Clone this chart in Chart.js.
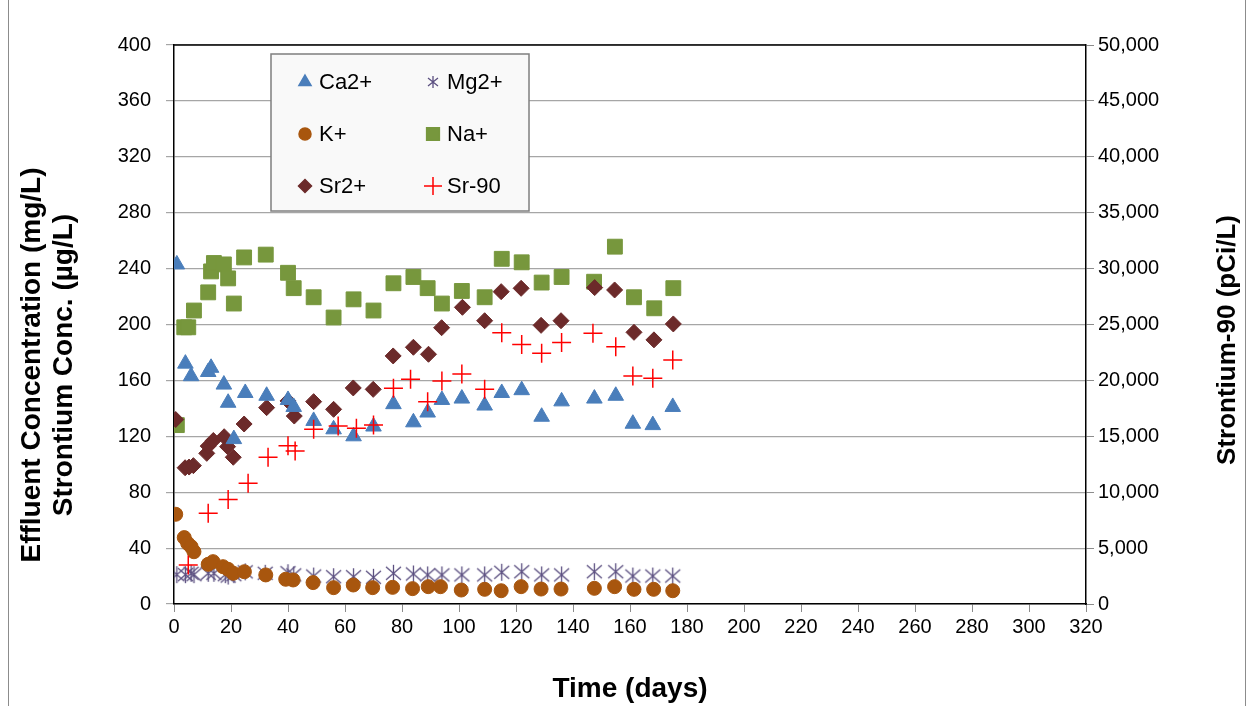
<!DOCTYPE html>
<html lang="en">
<head>
    <meta charset="UTF-8">
    <title>Effluent Concentration vs Time</title>
    <style>
        body {
            margin: 0;
            background: #ffffff;
        }
        .chart-box {
            width: 1254px;
            height: 706px;
            position: relative;
        }
    </style>
</head>
<body>
    <div class="chart-box">
        <canvas id="effluentChart"></canvas>
    </div>

    <script src="https://cdn.jsdelivr.net/npm/chart.js"></script>
    <script>
        // Data (time in days)
        const caDays = [1, 4, 6, 12, 13, 17.5, 19, 21, 25, 32.5, 40, 42, 49, 56, 63, 70, 77, 84, 89, 94, 101, 109, 115, 122, 129, 136, 147.5, 155, 161, 168, 175];
        const caVals = [243, 172, 163, 166, 169, 157, 144, 118, 151, 149, 146, 141, 131, 125, 120, 127, 143, 130, 137, 146, 147, 142, 151, 153, 134, 145, 147, 149, 129, 128, 141];

        const mgDays = [1, 4, 6, 7, 12, 14, 18, 19, 21, 25, 32, 40, 42, 49, 56, 63, 70, 77, 84, 89, 94, 101, 109, 115, 122, 129, 136, 147.5, 155, 161, 168, 175];
        const mgVals = [21, 21, 22, 21, 22, 22, 21, 20, 21, 23, 22, 22.4, 20.8, 20, 19.5, 19.5, 19.1, 22, 21.5, 20.8, 20.8, 20.8, 20.8, 22.7, 23.1, 20.8, 20.8, 23.1, 23.1, 20, 20, 20];

        const kDays = [0.6, 3.6, 4.8, 6, 7, 12, 13.7, 17.2, 19, 20.8, 24.7, 32.2, 39.2, 41.8, 48.8, 56, 62.9, 69.7, 76.7, 83.7, 89.2, 93.5, 100.8, 109, 114.8, 121.8, 128.8, 135.8, 147.5, 154.6, 161.4, 168.3, 175];
        const kVals = [64.2, 47.5, 43.4, 41, 37.4, 28.4, 30.3, 26.7, 24.8, 22, 23.1, 20.8, 17.7, 17.2, 15.3, 11.7, 13.6, 11.7, 11.9, 11, 12.4, 12.4, 10, 10.5, 9.5, 12.4, 10.7, 10.7, 11.2, 12.4, 10.5, 10.5, 9.5];

        const naDays = [1, 3.6, 5, 7, 12, 13, 14, 17.5, 19, 21, 24.6, 32.2, 40, 42, 49, 56, 63, 70, 77, 84, 89, 94, 101, 109, 115, 122, 129, 136, 147.4, 154.7, 161.4, 168.5, 175.2];
        const naVals = [128, 198, 198, 210, 223, 238, 244, 243, 233, 215, 248, 250, 237, 226, 219.5, 205, 218, 210, 229.5, 234, 226, 215, 224, 219.5, 247, 244.5, 230, 234, 230.6, 255.7, 219.5, 211.6, 226];

        const srDays = [0.6, 3.9, 5.3, 6.8, 11.5, 12, 13.8, 17.6, 18.8, 20.8, 24.6, 32.5, 40, 42.2, 49, 56, 62.9, 69.9, 76.9, 84, 89.3, 93.9, 101.2, 109, 114.8, 121.8, 128.8, 135.8, 147.6, 154.6, 161.4, 168.4, 175.2];
        const srVals = [132, 97.5, 98, 99, 107.8, 113, 117, 119.7, 112.6, 105, 128.8, 140.5, 145.3, 134.5, 144.8, 139.3, 154.6, 153.6, 177.5, 183.7, 178.7, 197.7, 212.3, 202.7, 223.5, 225.9, 199.4, 202.7, 226.4, 224.7, 194.4, 189, 200.4];

        // Sr-90 on the right axis (pCi/L)
        const sr90Days = [5, 12, 19, 26, 33, 40, 42.5, 49, 57.6, 64, 70, 77, 83, 89, 94, 101, 109, 115, 122, 129, 136, 147, 155, 161, 168, 175];
        const sr90Vals = [3490, 8110, 9340, 10800, 13130, 14160, 13690, 15630, 15930, 15710, 16000, 19300, 20100, 18100, 19950, 20580, 19200, 24260, 23200, 22430, 23380, 24210, 23010, 20400, 20190, 21830];

        const FONT = "'Liberation Sans', Arial, sans-serif";

        function toPoints(xs, ys) {
            return xs.map((x, i) => ({ x: x, y: ys[i] }));
        }

        // six-armed asterisk marker for Mg2+
        function makeAsterisk(size, color) {
            const c = document.createElement('canvas');
            c.width = size;
            c.height = size;
            const g = c.getContext('2d');
            const m = size / 2;
            g.strokeStyle = color;
            g.lineWidth = 1.3;
            g.beginPath();
            g.moveTo(m, 1); g.lineTo(m, size - 1);
            g.moveTo(2, 3); g.lineTo(size - 2, size - 3);
            g.moveTo(size - 2, 3); g.lineTo(2, size - 3);
            g.stroke();
            return c;
        }
        const starBig = makeAsterisk(19, '#5b4f80');
        const starSmall = makeAsterisk(14, '#5b4f80');

        // white page, outer frame, plot frame, axis titles and legend box
        const decorations = {
            id: 'decorations',
            beforeDraw(chart) {
                const ctx = chart.ctx;
                ctx.save();
                ctx.fillStyle = '#ffffff';
                ctx.fillRect(0, 0, chart.width, chart.height);
                ctx.strokeStyle = '#8c8c8c';
                ctx.lineWidth = 1;
                ctx.strokeRect(8.5, -2, 1237, 720);
                ctx.restore();
            },
            afterDraw(chart) {
                const ctx = chart.ctx;
                const a = chart.chartArea;
                ctx.save();

                // top edge of the plot area
                ctx.strokeStyle = '#000000';
                ctx.lineWidth = 1.5;
                ctx.beginPath();
                ctx.moveTo(a.left, a.top);
                ctx.lineTo(a.right, a.top);
                ctx.stroke();

                // axis titles
                ctx.fillStyle = '#000000';
                ctx.font = 'bold 28px ' + FONT;
                ctx.textAlign = 'center';
                ctx.textBaseline = 'middle';
                ctx.fillText('Time (days)', (a.left + a.right) / 2, 689);

                ctx.save();
                ctx.translate(32, 365);
                ctx.rotate(-Math.PI / 2);
                ctx.fillText('Effluent Concentration (mg/L)', 0, 0);
                ctx.fillText('Strontium Conc. (\u00b5g/L)', 0, 32);
                ctx.restore();

                ctx.font = 'bold 26px ' + FONT;
                ctx.save();
                ctx.translate(1228, 340);
                ctx.rotate(-Math.PI / 2);
                ctx.fillText('Strontium-90 (pCi/L)', 0, 0);
                ctx.restore();

                // legend box
                const bx = 271, by = 54, bw = 258, bh = 157;
                ctx.fillStyle = '#f9f9f9';
                ctx.fillRect(bx, by, bw, bh);
                ctx.strokeStyle = '#7f7f7f';
                ctx.lineWidth = 1.5;
                ctx.strokeRect(bx, by, bw, bh);

                const entries = [
                    { ds: 0, x: 305, y: 82 },
                    { ds: 1, x: 433, y: 82 },
                    { ds: 2, x: 305, y: 134 },
                    { ds: 3, x: 433, y: 134 },
                    { ds: 4, x: 305, y: 186 },
                    { ds: 5, x: 433, y: 186 }
                ];
                ctx.font = '22px ' + FONT;
                ctx.textAlign = 'left';
                entries.forEach(function (e) {
                    const ds = chart.data.datasets[e.ds];
                    ctx.fillStyle = ds.backgroundColor;
                    ctx.strokeStyle = ds.borderColor;
                    const style = ds.legendStyle || ds.pointStyle;
                    Chart.helpers.drawPoint(ctx, {
                        pointStyle: style,
                        radius: ds.legendRadius,
                        borderWidth: ds.borderWidth,
                        rotation: 0
                    }, e.x, e.y);
                    ctx.fillStyle = '#000000';
                    ctx.fillText(ds.label, e.x + 14, e.y + 1);
                });

                ctx.restore();
            }
        };

        const ctx = document.getElementById('effluentChart').getContext('2d');

        new Chart(ctx, {
            type: 'scatter',
            data: {
                datasets: [
                    {
                        label: 'Ca2+',
                        data: toPoints(caDays, caVals),
                        pointStyle: 'triangle',
                        pointRadius: 9,
                        legendRadius: 7,
                        backgroundColor: '#4a7ebb',
                        borderColor: '#4a7ebb',
                        borderWidth: 1,
                        order: 1
                    },
                    {
                        label: 'Mg2+',
                        data: toPoints(mgDays, mgVals),
                        pointStyle: starBig,
                        legendStyle: starSmall,
                        pointRadius: 9,
                        legendRadius: 7,
                        backgroundColor: '#5b4f80',
                        borderColor: '#5b4f80',
                        borderWidth: 1,
                        order: 4
                    },
                    {
                        label: 'K+',
                        data: toPoints(kDays, kVals),
                        pointStyle: 'circle',
                        pointRadius: 7,
                        legendRadius: 6,
                        backgroundColor: '#a8560e',
                        borderColor: '#a8560e',
                        borderWidth: 1,
                        order: 3
                    },
                    {
                        label: 'Na+',
                        data: toPoints(naDays, naVals),
                        pointStyle: 'rect',
                        pointRadius: 10.5,
                        legendRadius: 9,
                        backgroundColor: '#77973d',
                        borderColor: '#77973d',
                        borderWidth: 1,
                        order: 5
                    },
                    {
                        label: 'Sr2+',
                        data: toPoints(srDays, srVals),
                        pointStyle: 'rectRot',
                        pointRadius: 8,
                        legendRadius: 6.5,
                        backgroundColor: '#6c2a2a',
                        borderColor: '#6c2a2a',
                        borderWidth: 1,
                        order: 2
                    },
                    {
                        label: 'Sr-90',
                        data: toPoints(sr90Days, sr90Vals),
                        yAxisID: 'y2',
                        pointStyle: 'cross',
                        pointRadius: 9.5,
                        legendRadius: 9,
                        backgroundColor: '#ff0000',
                        borderColor: '#ff0000',
                        borderWidth: 1.5,
                        order: 0
                    }
                ]
            },
            options: {
                responsive: true,
                maintainAspectRatio: false,
                animation: false,
                layout: {
                    padding: { top: 45, left: 0, right: 0, bottom: 0 }
                },
                scales: {
                    x: {
                        type: 'linear',
                        min: 0,
                        max: 320,
                        afterFit: function (s) { s.height = 102; },
                        ticks: {
                            stepSize: 20,
                            color: '#000000',
                            font: { family: FONT, size: 20 },
                            padding: 3,
                            maxRotation: 0
                        },
                        grid: {
                            drawOnChartArea: false,
                            tickLength: 8,
                            color: '#8c8c8c'
                        },
                        border: { color: '#000000', width: 1.5 }
                    },
                    y: {
                        position: 'left',
                        min: 0,
                        max: 400,
                        afterFit: function (s) { s.width = 174; },
                        ticks: {
                            stepSize: 40,
                            color: '#000000',
                            font: { family: FONT, size: 20 },
                            padding: 15
                        },
                        grid: {
                            color: '#a6a6a6',
                            lineWidth: 1.2,
                            tickLength: 8
                        },
                        border: { color: '#000000', width: 1.5 }
                    },
                    y2: {
                        position: 'right',
                        min: 0,
                        max: 50000,
                        afterFit: function (s) { s.width = 168; },
                        ticks: {
                            stepSize: 5000,
                            color: '#000000',
                            font: { family: FONT, size: 20 },
                            padding: 4,
                            callback: function (v) { return v.toLocaleString('en-US'); }
                        },
                        grid: {
                            drawOnChartArea: false,
                            tickLength: 8,
                            color: '#8c8c8c'
                        },
                        border: { color: '#000000', width: 1.5 }
                    }
                },
                plugins: {
                    legend: { display: false },
                    tooltip: { enabled: false }
                }
            },
            plugins: [decorations]
        });
    </script>
</body>
</html>
